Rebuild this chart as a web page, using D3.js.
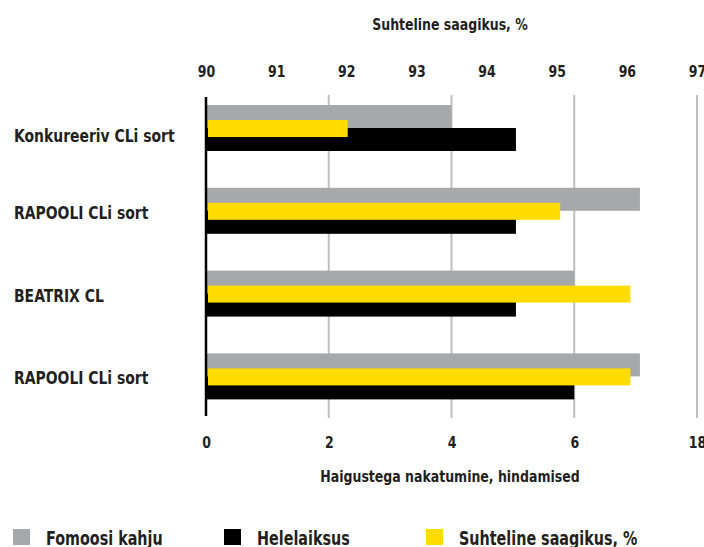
<!DOCTYPE html>
<html>
<head>
<meta charset="utf-8">
<script src="https://cdn.jsdelivr.net/npm/d3@7"></script>
<style>
  body { margin: 0; background: #fff; }
  svg { display: block; }
  text { font-family: "DejaVu Sans Condensed", "DejaVu Sans", sans-serif; font-weight: bold; fill: #231f20; }
  .tick text { font-size: 16px; }
  .cat { font-size: 17.5px; }
  .title { font-size: 16px; }
  .legend text { font-size: 19px; }
</style>
</head>
<body>
<div id="vis1"></div>
<script>
// categories, top to bottom
var categories = ["Konkureeriv CLi sort", "RAPOOLI CLi sort", "BEATRIX CL", "RAPOOLI CLi sort "];
// bottom scale (hindamised)
var fomoosi = [4.0, 7.07, 6.0, 7.07];
var helelaiksus = [5.05, 5.05, 5.05, 6.0];
// top scale (%)
var saagikus = [92.02, 95.05, 96.05, 96.05];

var bottomTicks = [0, 2, 4, 6, 8];
var bottomLabels = ["0", "2", "4", "6", "18"];
var topTicks = [90, 91, 92, 93, 94, 95, 96, 97];

var seriesNames = ["Fomoosi kahju", "Helelaiksus", "Suhteline saagikus, %"];
var seriesColors = ["#a7a8ab", "#000000", "#ffdc00"];

var width = 704, height = 547;
var squeeze = 0.87; // fake a condensed face

var svg = d3.select("#vis1").append("svg")
    .attr("width", width)
    .attr("height", height);

var xScale = d3.scaleLinear().domain([0, 8]).range([206, 697]);
var xTop = d3.scaleLinear().domain([90, 97]).range([206, 697]);

var yScale = d3.scaleBand()
    .domain(categories)
    .range([105, 436.2]);

// put a text at x,y and squeeze it horizontally
function place(sel, x, y, k) {
    sel.attr("transform", function(d, i) {
        var xx = typeof x === "function" ? x(d, i) : x;
        var yy = typeof y === "function" ? y(d, i) : y;
        return "translate(" + xx + "," + yy + ") scale(" + (k || squeeze) + ",1)";
    });
}

// gridlines
svg.append("g").selectAll("line")
    .data(bottomTicks.slice(1))
    .enter().append("line")
    .attr("x1", function(d) { return xScale(d); })
    .attr("x2", function(d) { return xScale(d); })
    .attr("y1", 95)
    .attr("y2", 418)
    .attr("stroke", "#bfbfbf")
    .attr("stroke-width", 2);

// gray bars
svg.append("g").selectAll("rect")
    .data(fomoosi)
    .enter().append("rect")
    .attr("x", xScale(0))
    .attr("y", function(d, i) { return yScale(categories[i]); })
    .attr("width", function(d) { return xScale(d) - xScale(0); })
    .attr("height", 23)
    .attr("fill", seriesColors[0]);

// black bars
svg.append("g").selectAll("rect")
    .data(helelaiksus)
    .enter().append("rect")
    .attr("x", xScale(0))
    .attr("y", function(d, i) { return yScale(categories[i]) + 23; })
    .attr("width", function(d) { return xScale(d) - xScale(0); })
    .attr("height", 23)
    .attr("fill", seriesColors[1]);

// yellow bars on top
svg.append("g").selectAll("rect")
    .data(saagikus)
    .enter().append("rect")
    .attr("x", xTop(90) + 2)
    .attr("y", function(d, i) { return yScale(categories[i]) + 15; })
    .attr("width", function(d) { return xTop(d) - xTop(90) - 2; })
    .attr("height", 17)
    .attr("fill", seriesColors[2]);

// zero axis line
svg.append("line")
    .attr("x1", xScale(0)).attr("x2", xScale(0))
    .attr("y1", 97).attr("y2", 416)
    .attr("stroke", "#000")
    .attr("stroke-width", 2.5);

// category labels
svg.append("g").selectAll("text")
    .data(categories)
    .enter().append("text")
    .attr("class", "cat")
    .call(place, 14, function(d, i) { return yScale(d) + (i == 0 ? 36.5 : 31); }, 0.885)
    .text(function(d) { return d.trim(); });

// bottom axis
svg.append("g")
    .attr("transform", "translate(0, 437)")
    .call(d3.axisBottom(xScale).tickValues(bottomTicks).tickSize(0).tickPadding(0)
        .tickFormat(function(d, i) { return bottomLabels[i]; }))
    .call(function(g) { g.select(".domain").remove(); })
    .selectAll("text").attr("fill", "#231f20").attr("transform", "scale(" + squeeze + ",1)");

// top axis
svg.append("g")
    .attr("transform", "translate(0, 77)")
    .call(d3.axisTop(xTop).tickValues(topTicks).tickSize(0).tickPadding(0)
        .tickFormat(d3.format("d")))
    .call(function(g) { g.select(".domain").remove(); })
    .selectAll("text").attr("fill", "#231f20").attr("transform", "scale(" + squeeze + ",1)");

svg.append("text")
    .attr("class", "title")
    .attr("text-anchor", "middle")
    .call(place, 450, 30)
    .text("Suhteline saagikus, %");

svg.append("text")
    .attr("class", "title")
    .attr("text-anchor", "middle")
    .call(place, 450, 482)
    .text("Haigustega nakatumine, hindamised");

// legend
var legendX = [13, 224, 426];
var legend = svg.append("g").attr("class", "legend")
    .selectAll("g")
    .data(seriesNames)
    .enter().append("g")
    .attr("transform", function(d, i) { return "translate(" + legendX[i] + ", 529)"; });

legend.append("rect")
    .attr("width", 17).attr("height", 16)
    .attr("fill", function(d, i) { return seriesColors[i]; });

legend.append("text")
    .call(place, 33, 15.5, 0.84)
    .text(function(d) { return d; });
</script>
</body>
</html>
